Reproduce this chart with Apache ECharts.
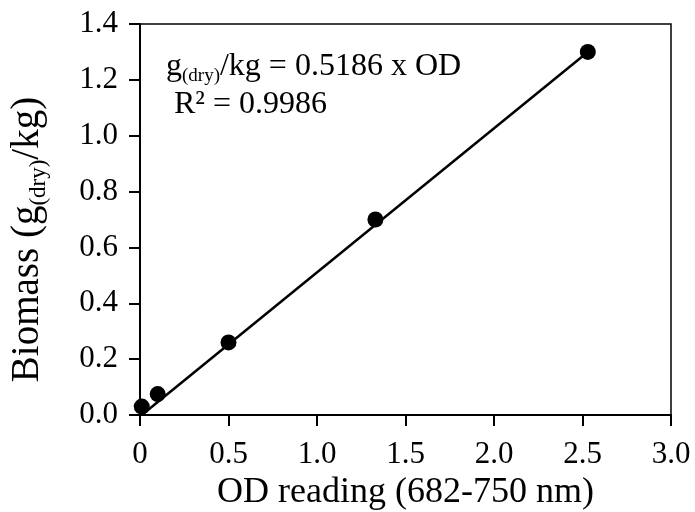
<!DOCTYPE html>
<html>
<head>
<meta charset="utf-8">
<script src="https://cdn.jsdelivr.net/npm/echarts@6/dist/echarts.min.js"></script>
<style>
  html, body { margin: 0; padding: 0; background: #fff; }
  #main { width: 695px; height: 512px; }
</style>
</head>
<body>
<div id="main"></div>
<script type="text/javascript">
// measured points
var odReading = [0.01, 0.10, 0.50, 1.33, 2.53];
var biomass = [0.03, 0.075, 0.26, 0.70, 1.30];
// fitted line end points
var fitX = [0.01, 2.53];
var fitY = [0.0, 1.30];
// axis ranges
var xMin = 0, xMax = 3.0, xStep = 0.5;
var yMin = 0, yMax = 1.4, yStep = 0.2;

var serif = '"Liberation Serif", "Times New Roman", serif';

var points = odReading.map(function (x, i) { return [x, biomass[i]]; });
var fit = fitX.map(function (x, i) { return [x, fitY[i]]; });

var myChart = echarts.init(document.getElementById('main'));
var option = {
    backgroundColor: '#fff',
    animation: false,
    grid: {
        left: 140, right: 24, top: 24, bottom: 97,
        outerBoundsMode: 'none',
        show: true,
        borderColor: '#000',
        borderWidth: 1.5
    },
    xAxis: {
        type: 'value',
        min: xMin, max: xMax, interval: xStep,
        splitLine: { show: false },
        axisLine: { lineStyle: { color: '#000', width: 2 } },
        axisTick: { inside: false, length: 11, lineStyle: { color: '#000', width: 2 } },
        axisLabel: {
            color: '#000', fontFamily: serif, fontSize: 31, margin: 24,
            formatter: function (v) { return v === 0 ? '0' : v.toFixed(1); }
        },
        name: 'OD reading (682-750 nm)',
        nameLocation: 'middle',
        nameGap: 53,
        nameTextStyle: { color: '#000', fontFamily: serif, fontSize: 36 }
    },
    yAxis: {
        type: 'value',
        min: yMin, max: yMax, interval: yStep,
        splitLine: { show: false },
        axisLine: { lineStyle: { color: '#000', width: 2 } },
        axisTick: { inside: false, length: 11, lineStyle: { color: '#000', width: 2 } },
        axisLabel: {
            color: '#000', fontFamily: serif, fontSize: 31, margin: 22,
            formatter: function (v) { return v.toFixed(1); }
        },
        name: '{m|Biomass (g}{s|(dry)}{m|/kg)}',
        nameLocation: 'middle',
        nameGap: 90,
        nameTextStyle: {
            color: '#000', fontFamily: serif, fontSize: 39,
            padding: [0, 40, 0, 0],
            rich: {
                m: { fontFamily: serif, fontSize: 39, color: '#000', lineHeight: 44, verticalAlign: 'middle' },
                s: { fontFamily: serif, fontSize: 23, color: '#000', lineHeight: 44, verticalAlign: 'bottom' }
            }
        }
    },
    graphic: [{
        type: 'text',
        left: 166, top: 51,
        style: {
            text: '{m|g}{s|(dry)}{m|/kg = 0.5186 x OD}\n{m| R² = 0.9986}',
            fill: '#000',
            rich: {
                m: { fontFamily: serif, fontSize: 32, fill: '#000', lineHeight: 38, verticalAlign: 'middle' },
                s: { fontFamily: serif, fontSize: 19, fill: '#000', lineHeight: 38, verticalAlign: 'bottom' }
            }
        }
    }],
    series: [{
        name: 'fit',
        type: 'line',
        data: fit,
        showSymbol: false,
        symbol: 'none',
        lineStyle: { color: '#000', width: 2.5 },
        z: 2
    }, {
        name: 'measured',
        type: 'scatter',
        data: points,
        symbol: 'circle',
        symbolSize: 16,
        itemStyle: { color: '#000', opacity: 1 },
        z: 3
    }]
};
myChart.setOption(option);
</script>
</body>
</html>
